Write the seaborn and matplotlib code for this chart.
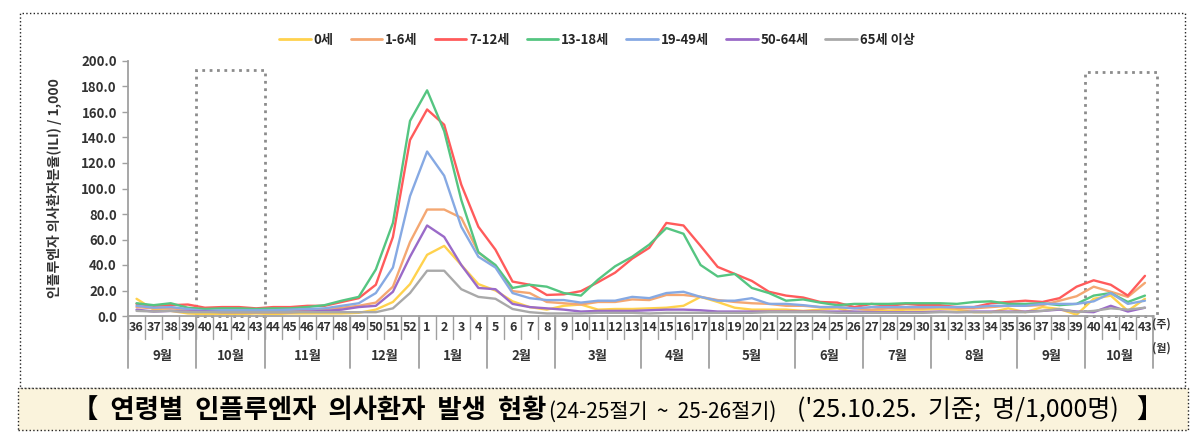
import matplotlib
matplotlib.use('Agg')
import matplotlib.pyplot as plt
import matplotlib.patches as patches
import numpy as np
import pandas as pd
import seaborn as sns

# week labels (2024 wk36 ~ 2025 wk43)
weeks = [36, 37, 38, 39, 40, 41, 42, 43, 44, 45, 46, 47, 48, 49, 50, 51, 52,
         1, 2, 3, 4, 5, 6, 7, 8, 9, 10, 11, 12, 13, 14, 15, 16, 17, 18, 19, 20,
         21, 22, 23, 24, 25, 26, 27, 28, 29, 30, 31, 32, 33, 34, 35, 36, 37, 38,
         39, 40, 41, 42, 43]
months = ['9월', '10월', '11월', '12월', '1월', '2월', '3월', '4월', '5월', '6월', '7월', '8월', '9월', '10월']
monthSizes = [4, 4, 5, 4, 4, 4, 5, 4, 5, 4, 4, 5, 4, 4]

ages = ['0세', '1-6세', '7-12세', '13-18세', '19-49세', '50-64세', '65세 이상']
colors = ['#FFD24D', '#F4A772', '#FF5B5B', '#55C581', '#86A9E3', '#9A6AC8', '#A9A9A9']

age0 = [13.5, 5, 4, 2, 1.5, 1.5, 1.5, 2, 1.5, 2, 2, 2, 2, 2.5, 5, 11, 25,
        48, 55, 40, 25, 20, 11.5, 7, 5, 8, 9, 5, 5.5, 5.5, 6, 6.5, 8, 15, 11, 6.5, 5,
        5, 5, 4, 5, 6, 3, 4, 4, 5, 5, 5.5, 5, 3, 3, 6, 3, 7, 5.5, 1, 13.5, 16, 4, 13.5]
age1_6 = [7, 6, 6, 5, 4, 4, 4, 4, 4, 4, 5, 5.5, 6.5, 8, 10.5, 23, 58,
          83.5, 83.5, 77, 50, 39, 19.5, 18, 11, 10, 9, 11, 11, 13, 12.5, 16.5, 16.5, 15, 12.5, 11, 10,
          9.5, 8, 8, 7, 7, 6, 5, 6, 6, 6, 7, 6, 6, 7, 8, 8, 8.5, 12, 15.5, 23, 19, 15, 26]
age7_12 = [9.5, 8, 8.5, 9, 6.5, 7, 7, 6, 7, 7, 8, 8, 11, 14, 24.5, 62, 138,
           162, 150, 103, 70, 52, 27, 24.5, 16.5, 17, 19.5, 26.5, 34, 45, 53.5, 73, 71, 55, 38.5, 33, 27.5,
           19, 16, 14.5, 11, 10.5, 7, 9.5, 8, 9.5, 8.5, 8.5, 7, 7, 10, 11, 12, 11, 14, 23, 28, 24.5, 16, 31.5]
age13_18 = [10, 8.5, 10, 6.5, 5.5, 6, 6, 5.5, 6, 6, 7, 8.5, 12, 15, 36.5, 73, 153,
            177, 145, 91, 50, 40, 22, 24.5, 23, 18, 16, 28.5, 39, 46.5, 56, 69, 64.5, 40, 31, 33, 22,
            18, 12, 13, 10.5, 8.5, 9.5, 9.5, 9.5, 10, 10, 10, 9.5, 11, 11.5, 9.5, 9.5, 10, 8.5, 9.5, 16, 18, 11, 16]
age19_49 = [8, 6.5, 7, 5.5, 4, 4.5, 4.5, 4.5, 4.5, 5, 5.5, 6, 8, 10, 18, 38, 94,
            129, 110, 70, 46.5, 38, 18, 14, 12.5, 12.5, 10.5, 12, 12, 15, 14, 18, 19, 15, 12, 12, 14,
            9.5, 9.5, 8.5, 7, 7, 6, 7, 7, 7, 7, 7, 7, 7, 8, 8, 8, 9.5, 9.5, 9.5, 11.5, 18, 9.5, 12]
age50_64 = [5, 3.5, 4, 3.5, 3.5, 3, 3, 3, 3, 3, 3.5, 4, 5, 7, 8, 19, 46.5,
            71, 62, 40, 22, 21, 9.5, 7, 6, 5, 3.5, 4, 4, 4, 4.5, 5, 5, 4.5, 3.5, 3.5, 3.5,
            3.5, 3.5, 3.5, 3.5, 3.5, 3.5, 3, 3, 3, 3, 3.5, 3, 3.5, 3.5, 3.5, 3.5, 4, 5, 3.5, 3, 8, 3.5, 6.5]
age65 = [4, 3.5, 4, 3, 3, 3, 3, 3, 3, 3, 3, 3, 3, 3, 3, 6, 18,
         35.5, 35.5, 21, 15, 13.5, 5.5, 3, 2, 2, 2, 2.5, 2.5, 2.5, 2, 2.5, 2.5, 2.5, 2.5, 2.5, 2.5,
         3, 3, 3, 3, 2.5, 2.5, 2.5, 2.5, 2.5, 2.5, 3, 3, 3, 3, 3, 3, 4, 5.5, 3, 4, 6, 5, 6.5]

series = [age0, age1_6, age7_12, age13_18, age19_49, age50_64, age65]
rows = []
for aa in range(len(ages)):
    for ww in range(len(weeks)):
        rows.append({'pos': ww, 'value': series[aa][ww], 'age': ages[aa]})
df = pd.DataFrame(rows)

sns.set_theme(style='white')
plt.rcParams['font.family'] = ['Noto Sans CJK KR', 'DejaVu Sans']

W, H = 1198, 437
fig = plt.figure(figsize=(W / 100, H / 100), dpi=100)
axL, axR, axT, axB = 128, 1153.5, 61, 316
ax = fig.add_axes([axL / W, 1 - axB / H, (axR - axL) / W, (axB - axT) / H])

sns.lineplot(data=df, x='pos', y='value', hue='age', hue_order=ages,
             palette=colors, linewidth=1.7, ax=ax)

ax.set_xlim(-0.5, len(weeks) - 0.5)
ax.set_ylim(0, 200)
ax.set_yticks(np.arange(0, 201, 20))
ax.set_yticklabels(['%.1f' % v for v in np.arange(0, 201, 20)],
                   fontsize=9.5, fontweight='bold', color='#333333')
ax.tick_params(axis='y', length=4, color='#A0A0A0', width=1, pad=4, left=True)
ax.set_xticks([])
ax.set_xlabel('')
ax.set_ylabel('인플루엔자 의사환자분율(ILI) / 1,000', fontsize=10, fontweight='bold',
              color='#333333', labelpad=14)
for s in ['top', 'right']:
    ax.spines[s].set_visible(False)
for s in ['left', 'bottom']:
    ax.spines[s].set_color('#A0A0A0')
    ax.spines[s].set_linewidth(1.3)

# two-level category axis: weeks and months
tr = ax.get_xaxis_transform()
for ww in range(len(weeks)):
    ax.text(ww, -0.045, str(weeks[ww]), transform=tr, ha='center', va='center',
            fontsize=9, fontweight='bold', color='#333333')
    ax.plot([ww - 0.5, ww - 0.5], [0, -0.09], transform=tr, color='#A0A0A0',
            lw=1, clip_on=False)
start = 0
for mm in range(len(months)):
    ax.plot([start - 0.5, start - 0.5], [0, -0.205], transform=tr, color='#A0A0A0',
            lw=1.3, clip_on=False)
    ax.text(start + monthSizes[mm] / 2 - 0.5, -0.155, months[mm], transform=tr,
            ha='center', va='center', fontsize=9.5, fontweight='bold', color='#333333')
    start += monthSizes[mm]
ax.plot([start - 0.5, start - 0.5], [0, -0.205], transform=tr, color='#A0A0A0',
        lw=1.3, clip_on=False)
ax.text(start - 0.6, -0.03, '(주)', transform=tr, ha='left', va='center',
        fontsize=8, fontweight='bold', color='#333333')
ax.text(start - 0.6, -0.125, '(월)', transform=tr, ha='left', va='center',
        fontsize=8, fontweight='bold', color='#333333')

# dotted boxes around weeks 40-43
ax.add_patch(patches.Rectangle((3.5, 0), 4, 193, fill=False, ls=':', lw=2,
                               ec='#8C8C8C', clip_on=False))
ax.add_patch(patches.Rectangle((55.5, 0), 4.2, 191, fill=False, ls=':', lw=2,
                               ec='#8C8C8C', clip_on=False))

sns.move_legend(ax, 'center', bbox_to_anchor=((597 - axL) / (axR - axL), (axB - 40) / (axB - axT)),
                ncol=7, frameon=False, title=None, handlelength=2.4, columnspacing=1.3,
                handletextpad=0.2, prop={'weight': 'bold', 'size': 9.5})
for ln in ax.get_legend().get_lines():
    ln.set_linewidth(2)

# outer frame and caption band
fig.patches.append(patches.Rectangle((20 / W, 1 - 388 / H), (1185 - 20) / W, (388 - 13) / H,
                                     transform=fig.transFigure, fill=False, ls=':',
                                     ec='#222222', lw=1))
fig.patches.append(patches.Rectangle((18 / W, 1 - 430 / H), (1188 - 18) / W, 42 / H,
                                     transform=fig.transFigure, fc='#FAF3DC', ls=':',
                                     ec='#222222', lw=1))
ty = 1 - 410 / H
fig.text(72 / W, ty, '【  연령별  인플루엔자  의사환자  발생  현황', fontsize=19,
         fontweight='bold', color='black', ha='left', va='center')
fig.text(549 / W, ty - 0.005, '(24-25절기  ~  25-26절기)', fontsize=15, color='black',
         ha='left', va='center')
fig.text(797 / W, ty, "('25.10.25.  기준;  명/1,000명)", fontsize=18, color='black',
         ha='left', va='center')
fig.text(1136 / W, ty, '】', fontsize=19, fontweight='bold', color='black',
         ha='left', va='center')

fig.savefig('out.png', dpi=100)
